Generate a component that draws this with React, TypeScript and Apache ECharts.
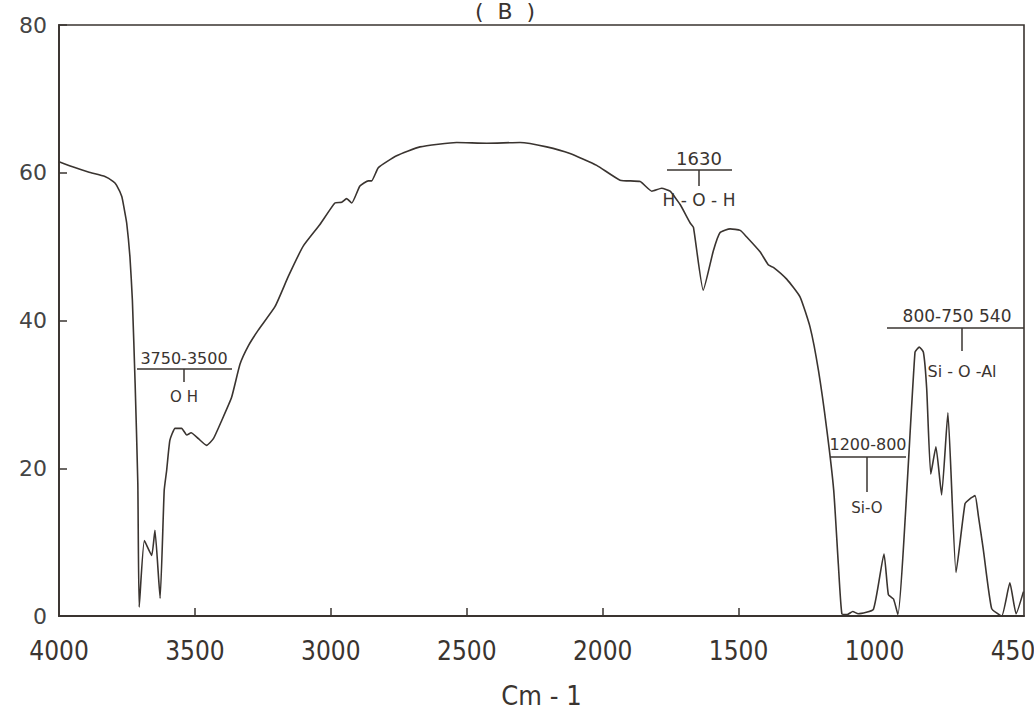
import React, { useEffect, useRef } from "react";
import * as echarts from "echarts";

// Wavenumber (cm-1) and transmittance (%)
const wavenumbers = [
  4000, 3950, 3892, 3831, 3800, 3788, 3769, 3760, 3751, 3739, 3730, 3720, 3710, 3705,
  3686, 3659, 3647, 3628, 3613, 3604, 3592, 3573, 3549, 3530, 3514, 3487, 3457, 3432,
  3401, 3365, 3334, 3303, 3267, 3205, 3156, 3101, 3040, 2985, 2960, 2942, 2923, 2893,
  2862, 2850, 2825, 2758, 2672, 2537, 2426, 2304, 2206, 2120, 2022, 1936, 1862, 1819,
  1783, 1752, 1715, 1678, 1666, 1630, 1593, 1568, 1531, 1494, 1470, 1421, 1390, 1372,
  1323, 1274, 1237, 1206, 1175, 1150, 1133, 1120, 1100, 1080, 1060, 1004, 965, 949,
  930, 914, 851, 835, 820, 808, 793, 774, 753, 730, 700, 667, 648, 630, 618, 600, 569,
  532, 502, 479, 452,
];
const transmittance = [
  61.5, 60.8, 60.1, 59.5, 58.8, 58.3, 56.8, 55.1, 53.2, 48.6, 42.7, 31.5, 17.9, 1.2,
  10.2, 8.2, 11.6, 2.4, 17.0, 19.7, 23.8, 25.4, 25.4, 24.5, 24.8, 24.0, 23.1, 24.0,
  26.5, 29.6, 34.1, 36.6, 38.7, 41.9, 46.0, 50.1, 53.0, 55.9, 56.0, 56.5, 55.9, 58.2,
  58.9, 58.9, 60.7, 62.3, 63.5, 64.1, 64.0, 64.1, 63.5, 62.6, 61.0, 59.0, 58.8, 57.5,
  57.9, 57.5, 55.7, 53.2, 52.6, 44.1, 49.4, 51.9, 52.4, 52.2, 51.3, 49.3, 47.5, 47.2,
  45.6, 43.2, 39.1, 33.2, 25.1, 17.0, 7.0, 0.3, 0.2, 0.6, 0.3, 0.9, 8.4, 2.9,
  2.3, 0.2, 35.7, 36.4, 35.7, 30.8, 19.2, 22.9, 16.4, 27.5, 5.9, 15.2, 15.9, 16.3, 13.6, 9.1, 1.0,
  0.0, 4.5, 0.3, 3.3,
];

const xTickLabels = [4000, 3500, 3000, 2500, 2000, 1500, 1000, 450];
const xTickMarks = [3500, 3000, 2500, 2000, 1500];
const yTickValues = [0, 20, 40, 60, 80];

const titleText = "(  B  )";
const xAxisName = "Cm - 1";
const bandLabels = ["3750-3500", "1630", "1200-800", "800-750 540"];
const bandGroups = ["O H", "H - O - H", "Si-O", "Si - O -Al"];

const INK = "#3a3430";

export default function App() {
  const ref = useRef<HTMLDivElement>(null);

  useEffect(() => {
    if (!ref.current) return;
    const chart = echarts.init(ref.current, null, { renderer: "svg" });
    const data = wavenumbers.map((w, i) => [w, transmittance[i]]);
    const annoFont = "'DejaVu Sans', sans-serif";
    const condensed = "'DejaVu Sans Condensed', 'DejaVu Sans', sans-serif";

    const annotation = (
      label: string,
      group: string,
      lx: number,
      ly: number,
      x1: number,
      x2: number,
      lineY: number,
      tickX: number,
      tickLen: number,
      gy: number,
      size: number
    ) => [
      {
        type: "text",
        x: lx,
        y: ly,
        style: { text: label, font: `${size}px ${annoFont}`, fill: INK, align: "center", verticalAlign: "middle" },
      },
      { type: "line", shape: { x1, y1: lineY, x2, y2: lineY }, style: { stroke: INK, lineWidth: 1.5 } },
      { type: "line", shape: { x1: tickX, y1: lineY, x2: tickX, y2: lineY + tickLen }, style: { stroke: INK, lineWidth: 1.5 } },
      {
        type: "text",
        x: tickX,
        y: gy,
        style: { text: group, font: `${size - 1}px ${annoFont}`, fill: INK, align: "center", verticalAlign: "middle" },
      },
    ];

    chart.setOption({
      animation: false,
      backgroundColor: "#ffffff",
      grid: {
        left: 59,
        right: 10,
        top: 25,
        bottom: 95,
        containLabel: false,
        outerBoundsMode: "none",
        show: true,
        borderColor: INK,
        borderWidth: 1.6,
      },
      xAxis: {
        type: "value",
        min: 450,
        max: 4000,
        inverse: true,
        name: xAxisName,
        nameLocation: "middle",
        nameGap: 66,
        nameTextStyle: {
          fontFamily: condensed,
          fontSize: 27,
          color: INK,
        },
        axisLine: { show: true, lineStyle: { color: INK, width: 1.8 } },
        axisTick: {
          show: true,
          inside: true,
          length: 8,
          customValues: xTickMarks,
          lineStyle: { color: INK, width: 1.5 },
        },
        axisLabel: {
          customValues: xTickLabels,
          margin: 22,
          fontFamily: condensed,
          fontSize: 26,
          color: INK,
          formatter: (v: number) => (v === 450 ? `{r|${v}}` : `${v}`),
          rich: {
            r: {
              fontFamily: condensed,
              fontSize: 26,
              color: INK,
              padding: [0, 22, 0, 0],
            },
          },
        },
        splitLine: { show: false },
      },
      yAxis: {
        type: "value",
        min: 0,
        max: 80,
        interval: 20,
        axisLine: { show: true, lineStyle: { color: INK, width: 1.8 } },
        axisTick: { show: true, inside: true, length: 8, lineStyle: { color: INK, width: 1.5 } },
        axisLabel: {
          customValues: yTickValues,
          margin: 12,
          fontFamily: "'DejaVu Sans', sans-serif",
          fontSize: 22,
          color: "#444",
        },
        splitLine: { show: false },
      },
      series: [
        {
          type: "line",
          data,
          showSymbol: false,
          smooth: 0.15,
          lineStyle: { color: INK, width: 1.6 },
        },
      ],
      graphic: [
        {
          type: "text",
          x: 505,
          y: 11,
          style: {
            text: titleText,
            font: "22px 'DejaVu Sans', sans-serif",
            fill: INK,
            align: "center",
            verticalAlign: "middle",
          },
        },
        ...annotation(bandLabels[0], bandGroups[0], 184, 358, 137, 232, 369, 184, 13, 397, 16),
        ...annotation(bandLabels[1], bandGroups[1], 699, 158, 667, 732, 170, 699, 16, 200, 18),
        ...annotation(bandLabels[2], bandGroups[2], 868, 444, 830, 906, 457, 867, 35, 508, 16),
        ...annotation(bandLabels[3], bandGroups[3], 957, 316, 887, 1024, 328, 962, 23, 371, 17),
      ],
    });
    return () => chart.dispose();
  }, []);

  return (
    <div
      ref={ref}
      style={{ position: "absolute", left: 0, top: 0, width: 1034, height: 711, background: "#fff" }}
    />
  );
}
